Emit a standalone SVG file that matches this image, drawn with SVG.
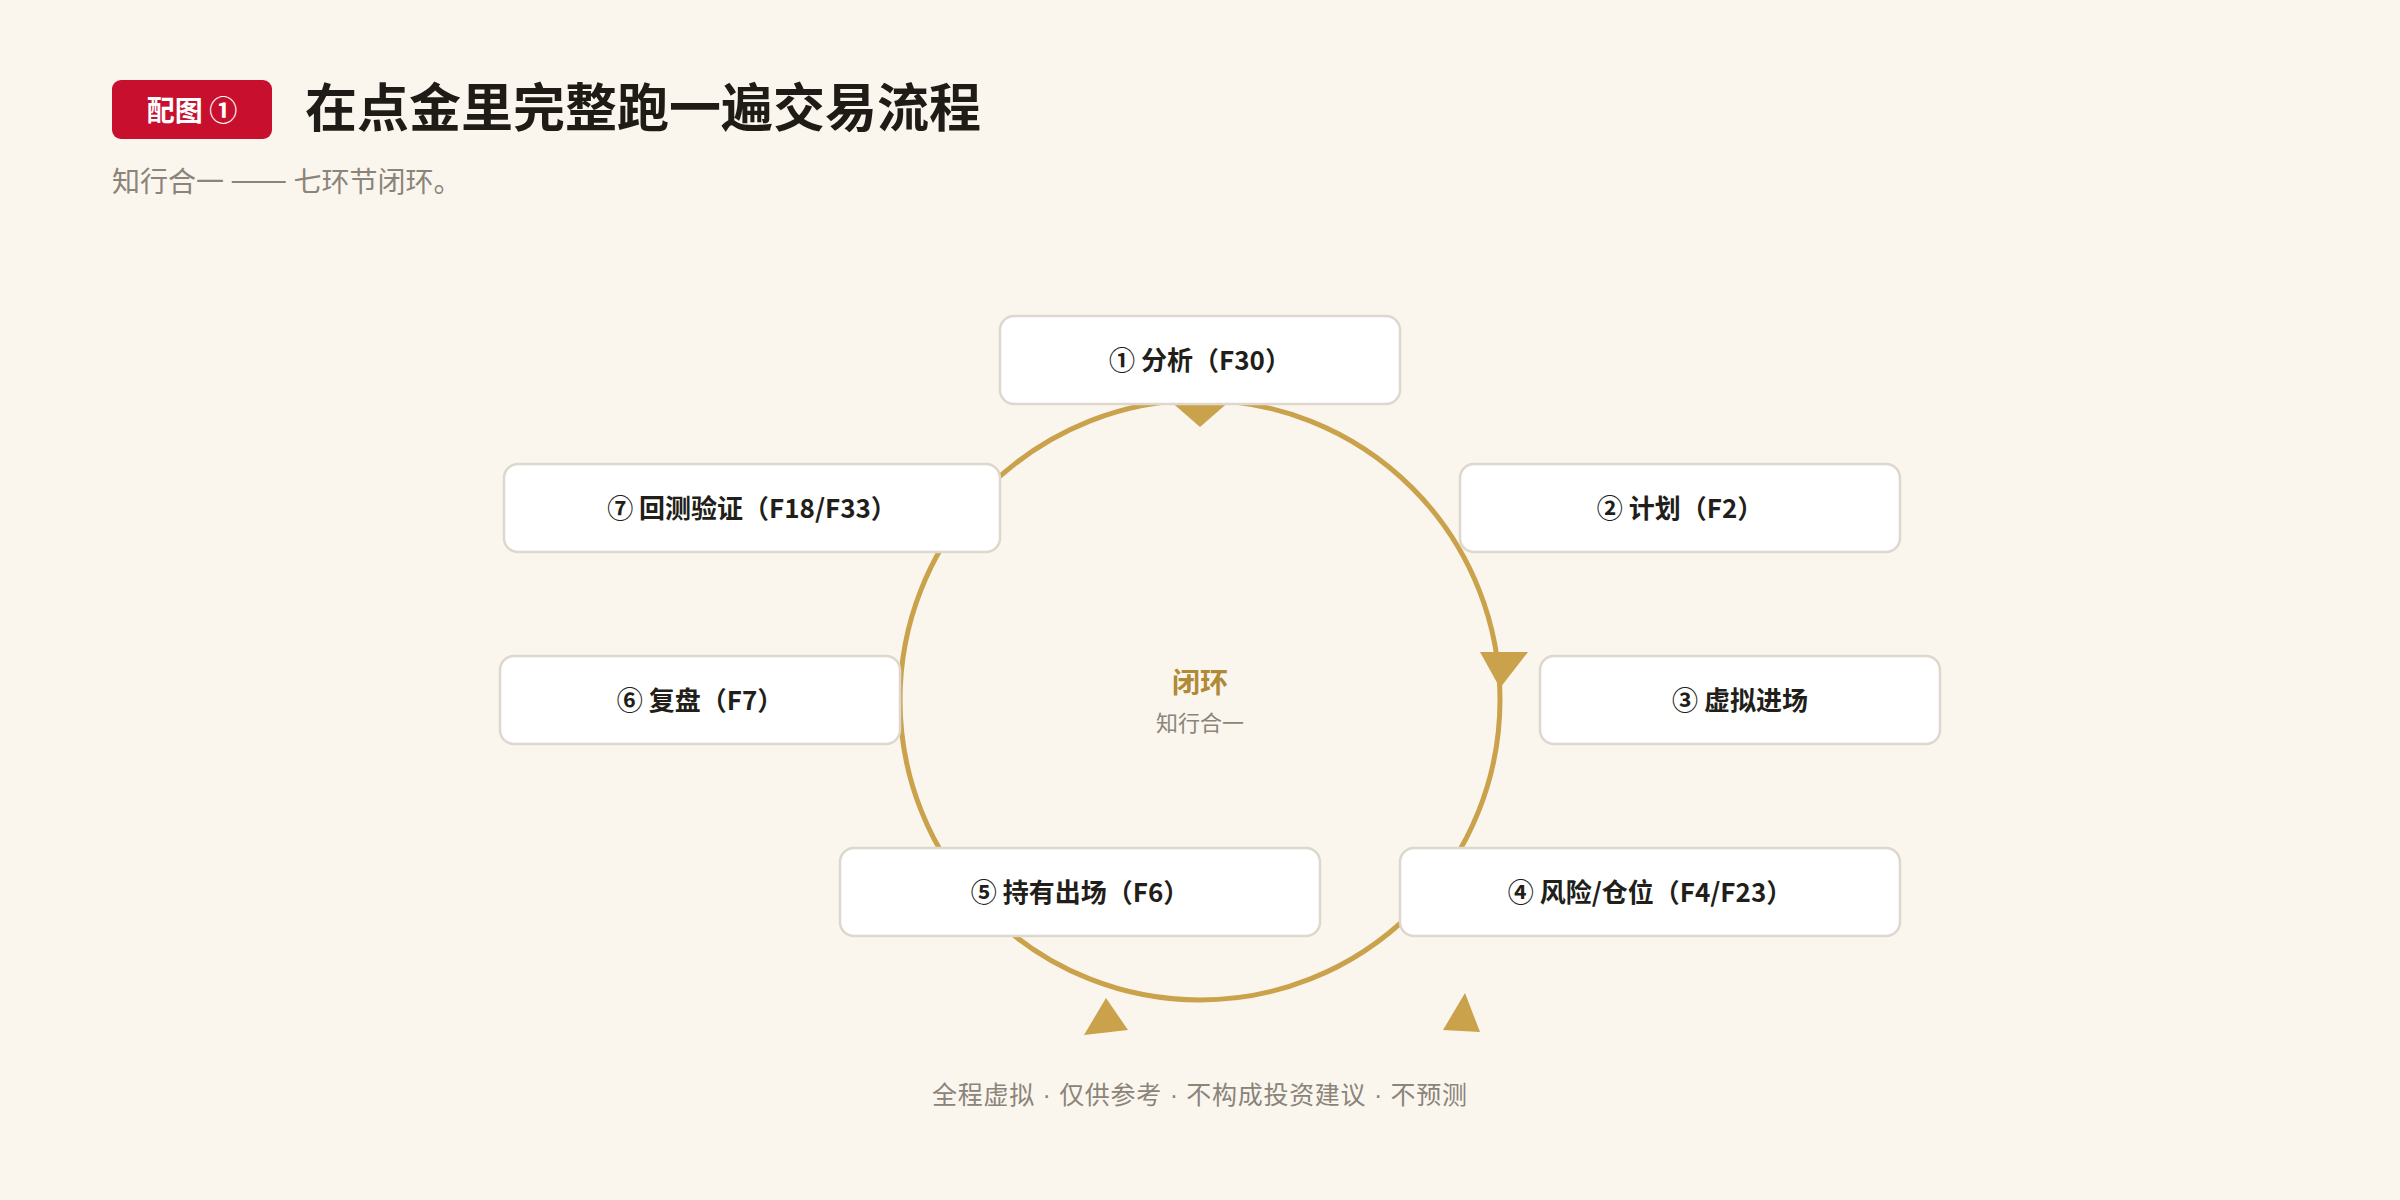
<svg xmlns="http://www.w3.org/2000/svg" width="2400" height="1200" viewBox="0 0 2400 1200">
  <style>
    .cjk { font-family: "Noto Sans CJK SC", "Noto Sans", sans-serif; }
    .lat { font-family: "Liberation Sans", "Noto Sans", sans-serif; }
    .node rect { fill: #ffffff; stroke: #ddd7cd; stroke-width: 2.5; }
    .node text { font-family: "Noto Sans CJK SC", "Noto Sans", sans-serif; font-size: 26px; font-weight: 700; fill: #221e19; text-anchor: middle; }
    .ring { fill: none; stroke: #c9a24b; stroke-width: 5; }
    .tri { fill: #c9a24b; }
  </style>
  <rect x="0" y="0" width="2400" height="1200" fill="#faf6ee"/>

  <g id="header">
    <rect x="112" y="80" width="160" height="59" rx="9" fill="#c8102e"/>
    <text class="cjk" x="192" y="121" font-size="28" font-weight="700" fill="#ffffff" text-anchor="middle">配图 ①</text>
    <text class="cjk" x="305" y="127" font-size="52" font-weight="700" fill="#1f1b16">在点金里完整跑一遍交易流程</text>
    <text class="cjk" x="112" y="192" font-size="28" fill="#8a847a">知行合一 <tspan font-size="34">——</tspan> 七环节闭环。</text>
  </g>

  <g id="connectors">
    <circle class="ring" cx="1200" cy="700" r="300"/>
    <polygon class="tri" points="1169,400 1231,400 1200,427"/>
    <polygon class="tri" points="1480,652 1528,652 1500,688"/>
    <polygon class="tri" points="1106,998 1084,1035 1128,1030"/>
    <polygon class="tri" points="1465,993 1443,1030 1480,1032"/>
  </g>

  <g id="center">
    <text class="cjk" x="1200" y="693" font-size="28" font-weight="700" fill="#b08a36" text-anchor="middle">闭环</text>
    <text class="cjk" x="1200" y="731" font-size="22" fill="#8a847a" text-anchor="middle">知行合一</text>
  </g>

  <g id="node1" class="node">
    <rect x="1000" y="316" width="400" height="88" rx="14"/>
    <text x="1200" y="370">① 分析（F30）</text>
  </g>
  <g id="node2" class="node">
    <rect x="1460" y="464" width="440" height="88" rx="14"/>
    <text x="1680" y="518">② 计划（F2）</text>
  </g>
  <g id="node3" class="node">
    <rect x="1540" y="656" width="400" height="88" rx="14"/>
    <text x="1740" y="710">③ 虚拟进场</text>
  </g>
  <g id="node4" class="node">
    <rect x="1400" y="848" width="500" height="88" rx="14"/>
    <text x="1650" y="902">④ 风险/仓位（F4/F23）</text>
  </g>
  <g id="node5" class="node">
    <rect x="840" y="848" width="480" height="88" rx="14"/>
    <text x="1080" y="902">⑤ 持有出场（F6）</text>
  </g>
  <g id="node6" class="node">
    <rect x="500" y="656" width="400" height="88" rx="14"/>
    <text x="700" y="710">⑥ 复盘（F7）</text>
  </g>
  <g id="node7" class="node">
    <rect x="504" y="464" width="496" height="88" rx="14"/>
    <text x="752" y="518">⑦ 回测验证（F18/F33）</text>
  </g>

  <g id="footer">
    <text class="cjk" x="932" y="1104" font-size="25" fill="#8a847a" textLength="535" lengthAdjust="spacing">全程虚拟<tspan class="lat"> · </tspan>仅供参考<tspan class="lat"> · </tspan>不构成投资建议<tspan class="lat"> · </tspan>不预测</text>
  </g>
</svg>
